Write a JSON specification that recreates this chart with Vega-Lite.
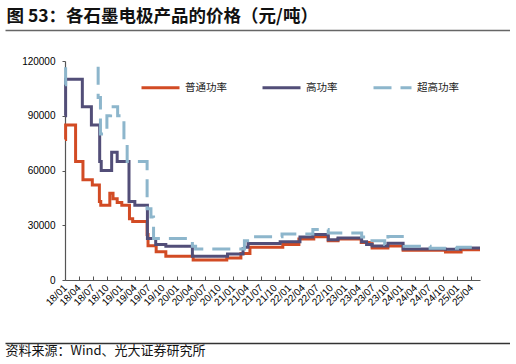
{
  "$schema": "https://vega.github.io/schema/vega-lite/v6.json",
  "padding": {"left": 5, "top": 7, "right": 0, "bottom": 0},
  "background": "white",
  "config": {"font": "Liberation Sans", "view": {"stroke": null}},
  "width": 505,
  "height": 282,
  "resolve": {"scale": {"x": "independent"}, "axis": {"x": "independent"}},
  "layer": [
    {
      "data": {"values": [
        {"date": "2018-01-01", "series": "普通功率", "price": 77000},
        {"date": "2018-01-05", "series": "普通功率", "price": 85000},
        {"date": "2018-03-11", "series": "普通功率", "price": 65000},
        {"date": "2018-04-28", "series": "普通功率", "price": 55000},
        {"date": "2018-06-28", "series": "普通功率", "price": 52000},
        {"date": "2018-08-13", "series": "普通功率", "price": 43000},
        {"date": "2018-08-22", "series": "普通功率", "price": 41000},
        {"date": "2018-10-20", "series": "普通功率", "price": 47500},
        {"date": "2018-11-10", "series": "普通功率", "price": 44500},
        {"date": "2018-12-07", "series": "普通功率", "price": 42500},
        {"date": "2019-01-06", "series": "普通功率", "price": 41000},
        {"date": "2019-02-25", "series": "普通功率", "price": 33500},
        {"date": "2019-03-18", "series": "普通功率", "price": 32000},
        {"date": "2019-06-20", "series": "普通功率", "price": 25000},
        {"date": "2019-06-26", "series": "普通功率", "price": 18800},
        {"date": "2019-08-18", "series": "普通功率", "price": 15500},
        {"date": "2019-10-20", "series": "普通功率", "price": 13000},
        {"date": "2020-04-15", "series": "普通功率", "price": 11000},
        {"date": "2020-11-20", "series": "普通功率", "price": 12000},
        {"date": "2021-02-20", "series": "普通功率", "price": 14500},
        {"date": "2021-04-20", "series": "普通功率", "price": 17900},
        {"date": "2021-11-20", "series": "普通功率", "price": 19500},
        {"date": "2022-03-05", "series": "普通功率", "price": 22500},
        {"date": "2022-06-10", "series": "普通功率", "price": 23700},
        {"date": "2022-09-12", "series": "普通功率", "price": 21500},
        {"date": "2022-11-15", "series": "普通功率", "price": 22400},
        {"date": "2023-04-15", "series": "普通功率", "price": 20600},
        {"date": "2023-06-25", "series": "普通功率", "price": 17500},
        {"date": "2023-10-06", "series": "普通功率", "price": 18600},
        {"date": "2024-01-13", "series": "普通功率", "price": 16300},
        {"date": "2024-10-15", "series": "普通功率", "price": 15300},
        {"date": "2025-01-25", "series": "普通功率", "price": 16600},
        {"date": "2025-05-28", "series": "普通功率", "price": 16600},

        {"date": "2018-01-01", "series": "高功率", "price": 90000},
        {"date": "2018-01-05", "series": "高功率", "price": 110000},
        {"date": "2018-04-24", "series": "高功率", "price": 95000},
        {"date": "2018-06-22", "series": "高功率", "price": 85000},
        {"date": "2018-08-15", "series": "高功率", "price": 65000},
        {"date": "2018-08-25", "series": "高功率", "price": 60000},
        {"date": "2018-11-01", "series": "高功率", "price": 70000},
        {"date": "2018-12-07", "series": "高功率", "price": 65000},
        {"date": "2019-02-22", "series": "高功率", "price": 43000},
        {"date": "2019-04-01", "series": "高功率", "price": 41000},
        {"date": "2019-06-22", "series": "高功率", "price": 22800},
        {"date": "2019-08-15", "series": "高功率", "price": 19500},
        {"date": "2019-10-20", "series": "高功率", "price": 18500},
        {"date": "2020-04-10", "series": "高功率", "price": 13000},
        {"date": "2020-11-25", "series": "高功率", "price": 14200},
        {"date": "2021-03-06", "series": "高功率", "price": 17900},
        {"date": "2021-04-08", "series": "高功率", "price": 20000},
        {"date": "2021-11-03", "series": "高功率", "price": 21000},
        {"date": "2022-03-12", "series": "高功率", "price": 23500},
        {"date": "2022-06-04", "series": "高功率", "price": 25000},
        {"date": "2022-09-12", "series": "高功率", "price": 22000},
        {"date": "2022-11-15", "series": "高功率", "price": 23000},
        {"date": "2023-04-18", "series": "高功率", "price": 21000},
        {"date": "2023-05-20", "series": "高功率", "price": 19500},
        {"date": "2023-06-25", "series": "高功率", "price": 18600},
        {"date": "2023-10-06", "series": "高功率", "price": 20100},
        {"date": "2024-01-13", "series": "高功率", "price": 17000},
        {"date": "2024-10-15", "series": "高功率", "price": 16800},
        {"date": "2025-01-20", "series": "高功率", "price": 17500},
        {"date": "2025-05-28", "series": "高功率", "price": 17500},

        {"date": "2018-01-01", "series": "超高功率", "price": 107000},
        {"date": "2018-01-05", "series": "超高功率", "price": 125000},
        {"date": "2018-08-05", "series": "超高功率", "price": 100000},
        {"date": "2018-08-20", "series": "超高功率", "price": 80000},
        {"date": "2018-10-01", "series": "超高功率", "price": 90000},
        {"date": "2018-10-25", "series": "超高功率", "price": 95000},
        {"date": "2018-12-10", "series": "超高功率", "price": 90000},
        {"date": "2019-01-20", "series": "超高功率", "price": 75000},
        {"date": "2019-02-10", "series": "超高功率", "price": 65000},
        {"date": "2019-06-20", "series": "超高功率", "price": 39000},
        {"date": "2019-07-15", "series": "超高功率", "price": 34500},
        {"date": "2019-08-01", "series": "超高功率", "price": 22800},
        {"date": "2020-04-10", "series": "超高功率", "price": 18500},
        {"date": "2020-05-01", "series": "超高功率", "price": 17000},
        {"date": "2021-03-15", "series": "超高功率", "price": 21500},
        {"date": "2021-05-05", "series": "超高功率", "price": 23700},
        {"date": "2021-11-15", "series": "超高功率", "price": 25200},
        {"date": "2022-06-04", "series": "超高功率", "price": 27700},
        {"date": "2022-09-12", "series": "超高功率", "price": 25800},
        {"date": "2023-04-18", "series": "超高功率", "price": 23500},
        {"date": "2023-06-01", "series": "超高功率", "price": 21500},
        {"date": "2023-09-15", "series": "超高功率", "price": 19500},
        {"date": "2023-10-06", "series": "超高功率", "price": 23900},
        {"date": "2024-01-20", "series": "超高功率", "price": 18500},
        {"date": "2024-07-07", "series": "超高功率", "price": 17400},
        {"date": "2025-01-01", "series": "超高功率", "price": 18000},
        {"date": "2025-05-28", "series": "超高功率", "price": 17900}
      ]},
      "mark": {"type": "line", "interpolate": "step-after", "strokeWidth": 3, "clip": true},
      "encoding": {
        "x": {
          "field": "date", "type": "temporal",
          "scale": {"type": "utc", "range": [60, 475], "domain": [{"year": 2018, "month": 1, "date": 1, "utc": true}, {"year": 2025, "month": 5, "date": 28, "utc": true}]},
          "axis": {
            "orient": "bottom", "offset": -63,
            "title": null, "grid": false,
            "labelExpr": "utcFormat(datum.value, '%y/%m')",
            "values": [
              {"year": 2018, "month": 1, "date": 1, "utc": true}, {"year": 2018, "month": 4, "date": 1, "utc": true}, {"year": 2018, "month": 7, "date": 1, "utc": true}, {"year": 2018, "month": 10, "date": 1, "utc": true},
              {"year": 2019, "month": 1, "date": 1, "utc": true}, {"year": 2019, "month": 4, "date": 1, "utc": true}, {"year": 2019, "month": 7, "date": 1, "utc": true}, {"year": 2019, "month": 10, "date": 1, "utc": true},
              {"year": 2020, "month": 1, "date": 1, "utc": true}, {"year": 2020, "month": 4, "date": 1, "utc": true}, {"year": 2020, "month": 7, "date": 1, "utc": true}, {"year": 2020, "month": 10, "date": 1, "utc": true},
              {"year": 2021, "month": 1, "date": 1, "utc": true}, {"year": 2021, "month": 4, "date": 1, "utc": true}, {"year": 2021, "month": 7, "date": 1, "utc": true}, {"year": 2021, "month": 10, "date": 1, "utc": true},
              {"year": 2022, "month": 1, "date": 1, "utc": true}, {"year": 2022, "month": 4, "date": 1, "utc": true}, {"year": 2022, "month": 7, "date": 1, "utc": true}, {"year": 2022, "month": 10, "date": 1, "utc": true},
              {"year": 2023, "month": 1, "date": 1, "utc": true}, {"year": 2023, "month": 4, "date": 1, "utc": true}, {"year": 2023, "month": 7, "date": 1, "utc": true}, {"year": 2023, "month": 10, "date": 1, "utc": true},
              {"year": 2024, "month": 1, "date": 1, "utc": true}, {"year": 2024, "month": 4, "date": 1, "utc": true}, {"year": 2024, "month": 7, "date": 1, "utc": true}, {"year": 2024, "month": 10, "date": 1, "utc": true},
              {"year": 2025, "month": 1, "date": 1, "utc": true}, {"year": 2025, "month": 4, "date": 1, "utc": true}
            ],
            "labelAngle": -45, "labelAlign": "right", "labelBaseline": "middle",
            "labelFontSize": 10, "labelColor": "#000000", "labelOverlap": false, "labelBound": false, "labelFlush": false,
            "tickSize": -4, "labelPadding": 10, "tickColor": "#555555", "domainColor": "#555555", "domainWidth": 1.2
          }
        },
        "y": {
          "field": "price", "type": "quantitative",
          "scale": {"domain": [0, 120000], "range": [219, 0], "nice": false, "zero": true},
          "axis": {
            "orient": "left", "offset": -60,
            "title": null, "grid": false, "values": [0, 30000, 60000, 90000, 120000], "format": "d",
            "labelFontSize": 10, "labelColor": "#000000", "tickSize": 3, "labelPadding": 7,
            "tickColor": "#555555", "domainColor": "#555555", "domainWidth": 1.2
          }
        },
        "color": {
          "field": "series", "type": "nominal",
          "scale": {"domain": ["普通功率", "高功率", "超高功率"], "range": ["#D24B24", "#524E78", "#8DB6CC"]},
          "legend": {
            "orient": "none", "legendX": 135, "legendY": 6, "direction": "horizontal", "title": null,
            "symbolType": "stroke", "symbolSize": 1444, "symbolStrokeWidth": 3,
            "labelFont": "Noto Sans CJK SC", "labelFontSize": 10.5, "labelColor": "#222222",
            "columnPadding": 29, "labelOffset": 4, "padding": 0
          }
        },
        "strokeDash": {
          "field": "series", "type": "nominal",
          "scale": {"domain": ["普通功率", "高功率", "超高功率"], "range": [[1, 0], [1, 0], [18, 9]]},
          "legend": {
            "orient": "none", "legendX": 135, "legendY": 6, "direction": "horizontal", "title": null,
            "symbolType": "stroke", "symbolSize": 1444, "symbolStrokeWidth": 3,
            "labelFont": "Noto Sans CJK SC", "labelFontSize": 10.5, "labelColor": "#222222",
            "columnPadding": 29, "labelOffset": 4, "padding": 0
          }
        }
      }
    },
    {
      "data": {"values": [{"edge": 0}]},
      "mark": {"type": "text"},
      "encoding": {
        "x": {"field": "edge", "type": "quantitative", "scale": {"domain": [0, 1]},
              "axis": {"orient": "bottom", "offset": 0, "grid": false, "ticks": false, "labels": false, "domainColor": "#333333", "domainWidth": 1.4,
                       "title": "资料来源：Wind、光大证券研究所", "titleAnchor": "start", "titleAlign": "left", "titleBaseline": "top",
                       "titleFont": "Noto Sans CJK SC", "titleFontSize": 13, "titleFontWeight": "normal", "titleColor": "#111111", "titlePadding": 1}},
        "text": {"value": ""}
      }
    },
    {
      "data": {"values": [{"edgeTop": 0}]},
      "mark": {"type": "text"},
      "encoding": {
        "x": {"field": "edgeTop", "type": "quantitative", "scale": {"domain": [0, 2]},
              "axis": {"orient": "top", "offset": 31, "grid": false, "ticks": false, "labels": false, "domainColor": "#666666", "domainWidth": 1.6,
                       "title": "图 53：各石墨电极产品的价格（元/吨）", "titleAnchor": "start", "titleAlign": "left", "titleBaseline": "bottom", "titleX": 1,
                       "titleFont": "Noto Sans CJK SC", "titleFontSize": 17.5, "titleFontWeight": "bold", "titleColor": "#111111", "titlePadding": 5}},
        "text": {"value": ""}
      }
    }
  ]
}
